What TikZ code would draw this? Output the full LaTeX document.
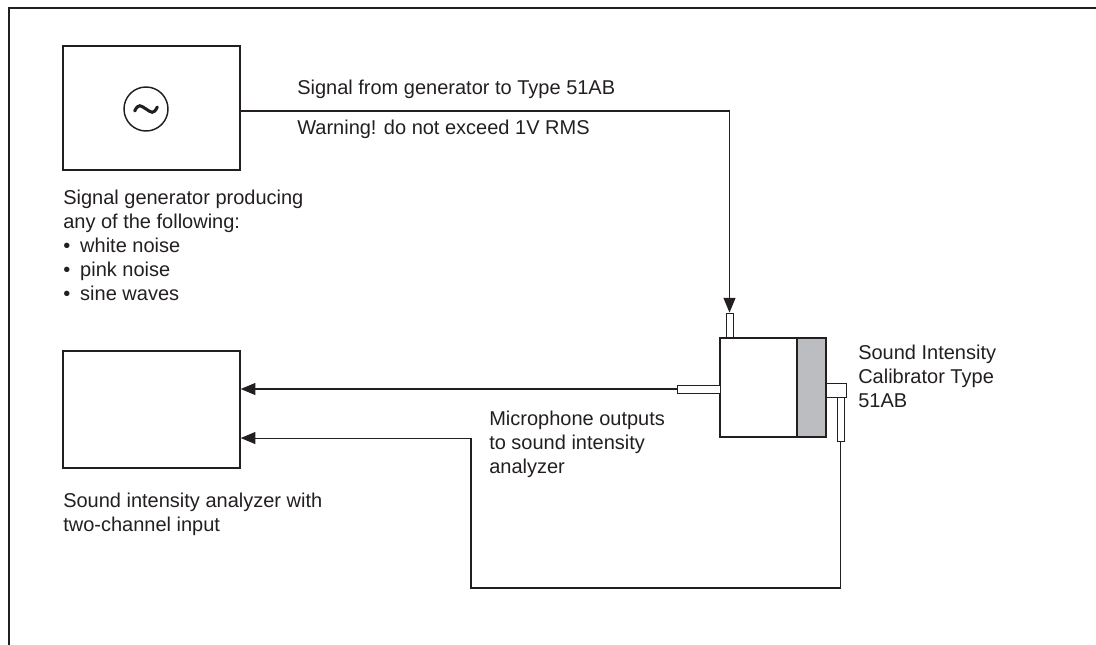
\documentclass[tikz,border=0pt]{standalone}
\usepackage{fontspec}
\setmainfont{Liberation Sans}
\usetikzlibrary{arrows.meta,positioning}
\definecolor{ink}{RGB}{35,31,32}
\definecolor{capgray}{RGB}{188,189,192}
\newcommand{\bul}{\makebox[12.75pt][l]{\textbullet}}

\begin{document}
\begin{tikzpicture}[x=0.75pt,y=-0.75pt,
  unitbox/.style={draw=ink, line width=1.1pt, inner sep=0pt},
  plug/.style={draw=ink, fill=white, line width=0.7pt, inner sep=0pt},
  wire/.style={draw=ink, line width=0.8pt},
  feed/.style={wire, -{Triangle[length=11pt,width=9pt]}},
  note/.style={anchor=north west, inner sep=0pt, align=left, text=ink, font=\fontsize{15}{18}\selectfont}]
\useasboundingbox (0,0) rectangle (1096,645);
\draw[ink, line width=1.5pt] (1096,8) -- (9,8) -- (9,645);

% generator and analyzer
\node (gen) [unitbox, minimum width=132.75pt, minimum height=93pt] at (151.5,108) {};
\node (osc) [unitbox, circle, minimum size=33pt] at (146,109) {};
\draw[ink, line width=2.3pt, line cap=round] ([xshift=-8.5pt,yshift=-1.5pt]osc.center) .. controls +(3pt,6pt) and +(-4pt,2.5pt) .. (osc.center) .. controls +(4pt,-2.5pt) and +(-3pt,-6pt) .. ([xshift=8.5pt,yshift=1.5pt]osc.center);
\node (ana) [unitbox, minimum width=132.75pt, minimum height=87.75pt] at (151.5,409.5) {};

% calibrator with its plugs
\node (calib) [unitbox, minimum width=79.5pt, minimum height=74.25pt] at (773,387.5) {};
\node (calibcap) [unitbox, fill=capgray, minimum width=21.75pt, minimum height=74.25pt, anchor=east] at (calib.east) {};
\node (tplug) [plug, minimum width=5.25pt, minimum height=18pt] at (729.5,325) {};
\node (lplug) [plug, minimum width=32.25pt, minimum height=6pt] at (698.5,389) {};
\node (hplug) [plug, minimum width=15pt, minimum height=10.5pt] at (836,390) {};
\node (vplug) [plug, minimum width=5.25pt, minimum height=33pt] at (840.5,419) {};

% wiring
\coordinate (loop) at (471,588);
\draw[feed] ([yshift=-2.25pt]gen.east) -| (tplug.north);
\draw[feed] (lplug.west) -- (lplug.west -| ana.east);
\draw[feed] (vplug.south) |- (loop) |- ([yshift=-21.4pt]ana.east);

% texts
\node (sigtxt) [note] at (297,80) {Signal from generator to Type 51AB};
\node (warn) [note] at (297,120) {Warning! do not exceed 1V RMS};
\node (gentxt) [note] at (63,190) {Signal generator producing\\any of the following:\\\bul white noise\\\bul pink noise\\\bul sine waves};
\node (caltxt) [note] at (858,345) {Sound Intensity\\Calibrator Type\\51AB};
\node (mictxt) [note] at (489,411) {Microphone outputs\\to sound intensity\\analyzer};
\node (anatxt) [note] at (63,493) {Sound intensity analyzer with\\two-channel input};
\end{tikzpicture}
\end{document}
